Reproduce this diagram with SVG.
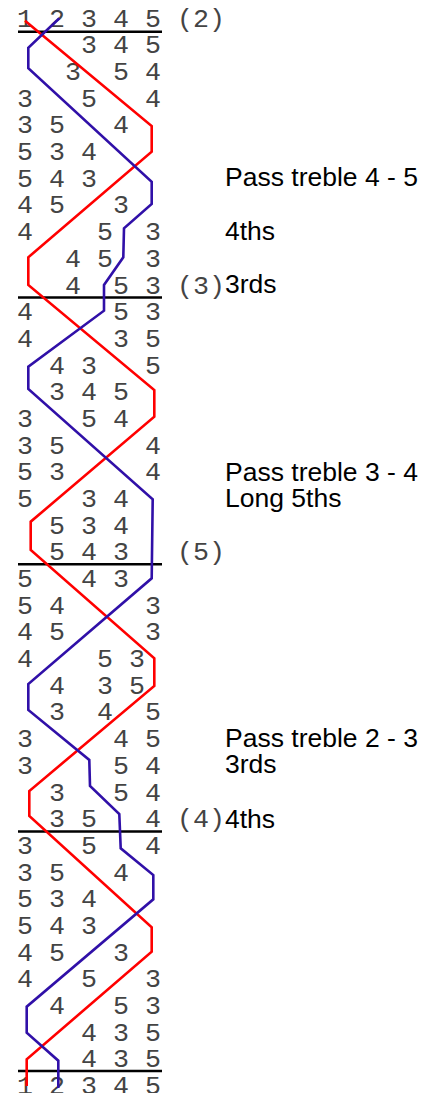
<svg xmlns="http://www.w3.org/2000/svg" width="433" height="1093" viewBox="0 0 433 1093">
<style>
.d{font-family:"Liberation Mono","Courier New",monospace;font-size:26.67px;fill:#444;text-anchor:middle}
.p{font-family:"Liberation Mono","Courier New",monospace;font-size:26.67px;fill:#444}
.s{font-family:"Liberation Sans",Arial,sans-serif;font-size:26.5px;fill:#000}
.sep{stroke:#000;stroke-width:2.6}
.red{fill:none;stroke:#ff0000;stroke-width:2.6;stroke-linejoin:miter}
.blue{fill:none;stroke:#3010a8;stroke-width:2.6;stroke-linejoin:miter}
</style>
<rect width="433" height="1093" fill="#fff"/>
<g id="rows">
<text class="d" x="25 57 89 121 153" y="26.6">12345</text>
<text class="d" x="89 121 153" y="53.3">345</text>
<text class="d" x="73 121 153" y="80">354</text>
<text class="d" x="25 89 153" y="106.7">354</text>
<text class="d" x="25 57 121" y="133.3">354</text>
<text class="d" x="25 57 89" y="160">534</text>
<text class="d" x="25 57 89" y="186.7">543</text>
<text class="d" x="25 57 121" y="213.4">453</text>
<text class="d" x="25 105 153" y="240.1">453</text>
<text class="d" x="73 105 153" y="266.8">453</text>
<text class="d" x="73 121 153" y="293.5">453</text>
<text class="d" x="25 121 153" y="320.1">453</text>
<text class="d" x="25 121 153" y="346.8">435</text>
<text class="d" x="57 89 153" y="373.5">435</text>
<text class="d" x="57 89 121" y="400.2">345</text>
<text class="d" x="25 89 121" y="426.9">354</text>
<text class="d" x="25 57 153" y="453.6">354</text>
<text class="d" x="25 57 153" y="480.2">534</text>
<text class="d" x="25 89 121" y="506.9">534</text>
<text class="d" x="57 89 121" y="533.6">534</text>
<text class="d" x="57 89 121" y="560.3">543</text>
<text class="d" x="25 89 121" y="587">543</text>
<text class="d" x="25 57 153" y="613.7">543</text>
<text class="d" x="25 57 153" y="640.4">453</text>
<text class="d" x="25 105 137" y="667">453</text>
<text class="d" x="57 105 137" y="693.7">435</text>
<text class="d" x="57 105 153" y="720.4">345</text>
<text class="d" x="25 121 153" y="747.1">345</text>
<text class="d" x="25 121 153" y="773.8">354</text>
<text class="d" x="57 121 153" y="800.5">354</text>
<text class="d" x="57 89 153" y="827.2">354</text>
<text class="d" x="25 89 153" y="853.8">354</text>
<text class="d" x="25 57 121" y="880.5">354</text>
<text class="d" x="25 57 89" y="907.2">534</text>
<text class="d" x="25 57 89" y="933.9">543</text>
<text class="d" x="25 57 121" y="960.6">453</text>
<text class="d" x="25 89 153" y="987.3">453</text>
<text class="d" x="57 121 153" y="1014">453</text>
<text class="d" x="89 121 153" y="1040.6">435</text>
<text class="d" x="89 121 153" y="1067.3">435</text>
<text class="d" x="25 57 89 121 153" y="1093.5">12345</text>
</g>
<g id="separators">
<line class="sep" x1="18" y1="31.7" x2="162" y2="31.7"/>
<line class="sep" x1="18" y1="297.5" x2="162" y2="297.5"/>
<line class="sep" x1="18" y1="564.3" x2="162" y2="564.3"/>
<line class="sep" x1="18" y1="831.5" x2="162" y2="831.5"/>
<line class="sep" x1="18" y1="1071" x2="162" y2="1071"/>
</g>
<g id="connectors">
<polyline class="red" points="25,20.7 151.7,126 151.7,151.7 28.3,257.3 28.3,285 154.3,390 154.3,416.7 30.7,521.7 30.7,550 154.3,658.3 154.3,686 29.3,791 29.3,816 151.7,927.3 151.7,951.7 26.7,1059.3 26.7,1086"/>
<polyline class="blue" points="59.3,18.3 28.3,47.7 28.3,68.3 151.7,181.7 151.7,204 124,228.3 123.3,257.3 104,285 104,310.7 28.3,366.7 28.3,389 152.7,499.3 151.7,578.3 28.3,684 28.3,710 89.3,760 90,786 119.3,814 120.7,848.3 153.3,875 153.3,899.3 26.7,1006.7 26.7,1032.7 58.3,1060.7 58.3,1088"/>
</g>
<g id="labels">
<text class="p" x="177" y="26.6">(2)</text>
<text class="p" x="177" y="293.5">(3)</text>
<text class="s" x="225" y="292.5">3rds</text>
<text class="s" x="225" y="186">Pass treble 4 - 5</text>
<text class="s" x="225" y="240">4ths</text>
<text class="s" x="225" y="480.7">Pass treble 3 - 4</text>
<text class="s" x="225" y="506.7">Long 5ths</text>
<text class="p" x="177" y="560.3">(5)</text>
<text class="s" x="225" y="746.7">Pass treble 2 - 3</text>
<text class="s" x="225" y="772.5">3rds</text>
<text class="p" x="177" y="827.2">(4)</text>
<text class="s" x="225" y="828.3">4ths</text>
</g>
</svg>
